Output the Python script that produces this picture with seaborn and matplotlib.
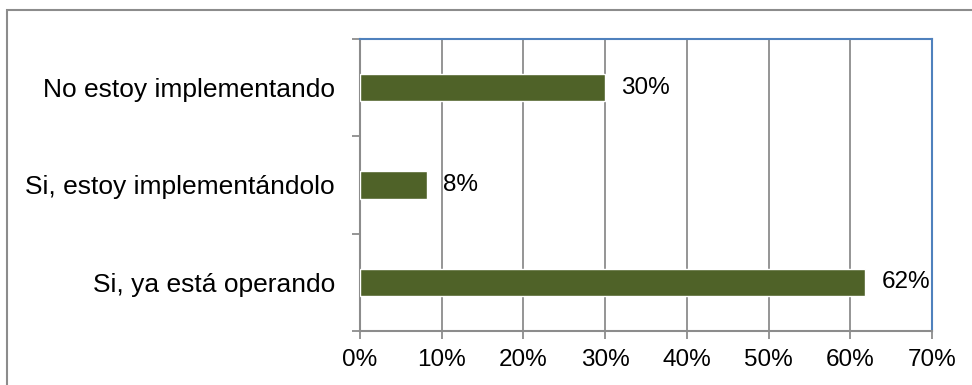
import matplotlib
matplotlib.use("Agg")
import matplotlib.pyplot as plt
from matplotlib.patches import Rectangle
from matplotlib.ticker import FixedLocator, PercentFormatter
import seaborn as sns
import pandas as pd

categories = ["No estoy implementando", "Si, estoy implementándolo", "Si, ya está operando"]
values = [30, 8.2, 61.8]
x_ticks = [0, 10, 20, 30, 40, 50, 60, 70]

sns.set_style("white")
plt.rcParams["font.family"] = ["Liberation Sans", "DejaVu Sans"]
plt.rcParams["text.color"] = "black"
plt.rcParams["xtick.labelcolor"] = "black"
plt.rcParams["ytick.labelcolor"] = "black"

df = pd.DataFrame({"respuesta": categories, "pct": values})

fig = plt.figure(figsize=(9.72, 3.85), dpi=100)
ax = fig.add_axes([360 / 972, 1 - 331 / 385, (932 - 360) / 972, (331 - 39) / 385])

# outer chart frame
fig.patches.append(Rectangle((7 / 972, -0.05), 1.2, 1 - 10 / 385 + 0.05,
                             transform=fig.transFigure, fill=False,
                             edgecolor="#8c8c8c", linewidth=1.5, zorder=0))

grid_c = "#8c8c8c"
sns.barplot(data=df, x="pct", y="respuesta", orient="h", color="#4F6228",
            width=0.28, saturation=1, ax=ax, zorder=3)

ax.set_xlim(0, 70)
ax.set_ylim(2.5, -0.5)
ax.set_xticks(x_ticks)
ax.xaxis.set_major_formatter(PercentFormatter(decimals=0))
ax.grid(axis="x", color=grid_c, linewidth=1.3, zorder=0)
ax.set_axisbelow(True)
ax.set_xlabel("")
ax.set_ylabel("")

for s in ["top", "right"]:
    ax.spines[s].set_color("#4F81BD")
    ax.spines[s].set_linewidth(1.5)
for s in ["left", "bottom"]:
    ax.spines[s].set_color(grid_c)
    ax.spines[s].set_linewidth(1.5)

ax.tick_params(axis="x", which="major", direction="out", length=6, width=1.3,
               color=grid_c, labelsize=17.5, pad=7, bottom=True)
ax.tick_params(axis="y", which="major", length=0, labelsize=19, pad=18)
ax.yaxis.set_minor_locator(FixedLocator([-0.5, 0.5, 1.5, 2.5]))
ax.tick_params(axis="y", which="minor", direction="out", length=6, width=1.3,
               color=grid_c, left=True)

for i, v in enumerate(values):
    ax.text(v + 2.0, i, f"{v:.0f}%", va="center", ha="left", fontsize=17.5,
            color="black", zorder=4)

fig.savefig("out.png", dpi=100, facecolor="white")
